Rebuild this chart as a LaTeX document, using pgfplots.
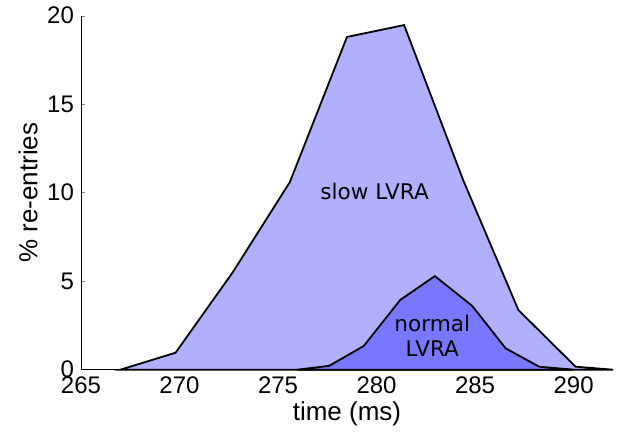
\documentclass[border=0pt]{standalone}
\usepackage{fontspec}
\setmainfont{Liberation Sans}
\newfontfamily\dejavu{DejaVu Sans}
\usepackage{pgfplots}
\pgfplotsset{compat=1.18}
\usetikzlibrary{calc}
\definecolor{slowfill}{RGB}{176,176,255}
\definecolor{normfill}{RGB}{120,120,255}
\begin{document}
\begin{tikzpicture}
\begin{axis}[
    name=ax,
    scale only axis, width=266pt, height=177pt,
    xmin=265, xmax=292, ymin=0, ymax=20,
    axis lines*=left,
    tick align=inside, major tick length=2pt,
    xtick={265,270,...,290}, ytick={0,5,...,20},
    /pgf/number format/assume math mode=true,
    tick label style={font=\fontsize{12}{14}\selectfont},
    label style={font=\fontsize{13}{15}\selectfont},
    xlabel={time (ms)}, ylabel={\% re-entries},
    xlabel style={yshift=3pt},
    ylabel style={yshift=-2pt},
    clip=false,
]
\addplot[draw=black, line width=0.9pt, fill=slowfill] coordinates {
    (267.0,0) (269.8,0.96) (272.7,5.5) (275.6,10.6) (278.5,18.8) (281.4,19.47)
    (284.4,10.7) (287.2,3.37) (290.1,0.17) (292.0,0.0)
} \closedcycle;
\addplot[draw=black, line width=0.9pt, fill=normfill] coordinates {
    (276.0,0) (277.6,0.22) (279.35,1.34) (281.2,3.94) (282.96,5.29)
    (284.86,3.6) (286.55,1.21) (288.25,0.17) (290.0,0.0)
} \closedcycle;
\node[font=\dejavu\fontsize{10.8}{12.5}\selectfont] at (axis cs:279.9,10.05) {slow LVRA};
\node[font=\dejavu\fontsize{10.8}{12.5}\selectfont, align=center] at (axis cs:282.83,1.9) {normal\\LVRA};
\end{axis}
\pgfresetboundingbox
\useasboundingbox ($(ax.south west)+(-40.5pt,-32.15pt)$) rectangle ($(ax.north east)+(5pt,7.85pt)$);
\end{tikzpicture}
\end{document}
